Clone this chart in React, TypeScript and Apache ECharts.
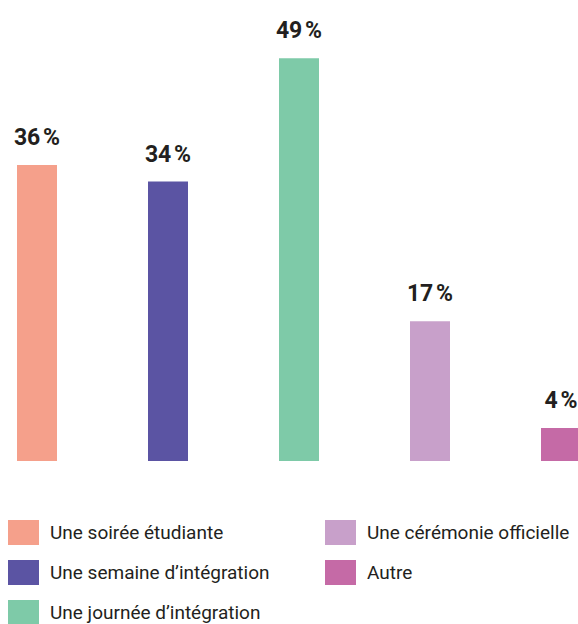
import React, { useEffect, useRef } from "react";
import * as echarts from "echarts";

const categories = [
  "Une soirée étudiante",
  "Une semaine d’intégration",
  "Une journée d’intégration",
  "Une cérémonie officielle",
  "Autre",
];
const values = [36, 34, 49, 17, 4];
const colors = ["#F5A08B", "#5B54A3", "#7ECAA8", "#C8A0CA", "#C56AA6"];
const legendLeft = categories.slice(0, 3);
const legendRight = categories.slice(3);

export default function App() {
  const ref = useRef<HTMLDivElement>(null);
  useEffect(() => {
    if (!ref.current) return;
    const chart = echarts.init(ref.current, undefined, { renderer: "svg" });
    const series = categories.map((name, i) => ({
      name,
      type: "bar",
      barWidth: 40,
      barGap: "-100%",
      itemStyle: { color: colors[i] },
      data: values.map((v, j) => (j === i ? v : "-")),
      label: {
        show: true,
        position: "top",
        distance: 16,
        formatter: (p: any) => `${p.value}\u202F%`,
        color: "#231F20",
        fontFamily: "Roboto",
        fontWeight: "bold",
        fontSize: 23,
      },
    }));
    const legendCommon = {
      orient: "vertical",
      icon: "rect",
      itemWidth: 31,
      itemHeight: 25,
      itemGap: 15,
      padding: 0,
      selectedMode: false,
      textStyle: {
        fontFamily: "Roboto",
        fontSize: 19,
        color: "#231F20",
        padding: [0, 0, 0, 6],
      },
    };
    chart.setOption({
      animation: false,
      grid: { left: 37, right: 17, top: 50, bottom: 199 },
      xAxis: {
        type: "category",
        data: categories,
        boundaryGap: false,
        show: false,
      },
      yAxis: { type: "value", min: 0, max: 50, show: false },
      legend: [
        { ...legendCommon, data: legendLeft, left: 8, top: 520 },
        { ...legendCommon, data: legendRight, left: 325, top: 520 },
      ],
      series,
    });
    return () => chart.dispose();
  }, []);
  return (
    <div
      ref={ref}
      style={{ position: "fixed", left: 0, top: 0, width: 578, height: 660, background: "#fff" }}
    />
  );
}
